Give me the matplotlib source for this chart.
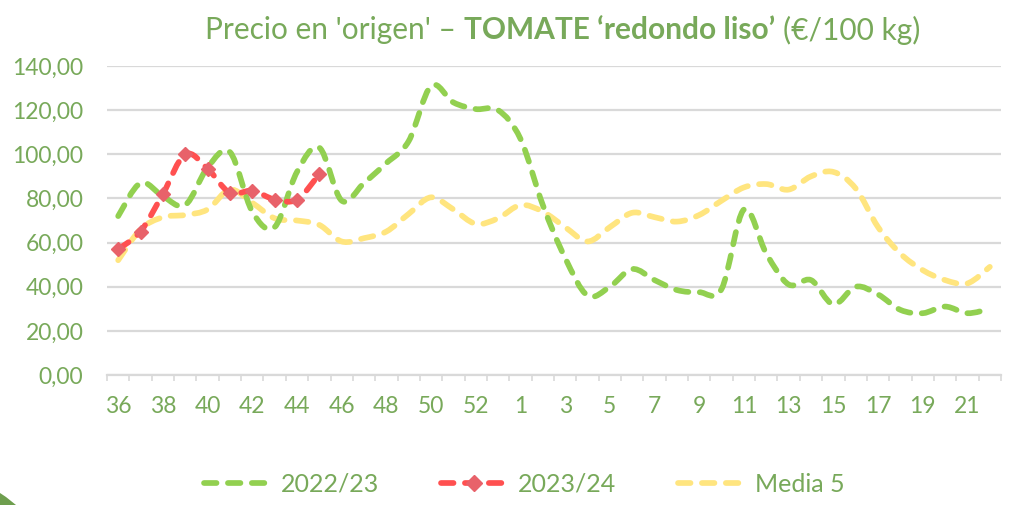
import numpy as np
import matplotlib
matplotlib.use("Agg")
import matplotlib.pyplot as plt
from matplotlib.path import Path
from matplotlib.patches import PathPatch, Polygon
from matplotlib.lines import Line2D
from matplotlib.ticker import FuncFormatter

# ---------------- data ----------------
weeks = [36, 37, 38, 39, 40, 41, 42, 43, 44, 45, 46, 47, 48, 49, 50, 51, 52, 53,
         1, 2, 3, 4, 5, 6, 7, 8, 9, 10, 11, 12, 13, 14, 15, 16, 17, 18, 19, 20, 21, 22]

s2022 = [72, 87, 81, 77, 94, 101, 74, 67, 92, 103, 79, 87, 96, 106, 131, 123.5, 120.5, 120,
         107, 77, 53, 36, 40, 48, 43, 38.5, 37.5, 39, 75, 55, 41, 43, 32, 40, 36.5, 29.5, 28, 31, 28, 30]

s2023 = [57, 65, 82, 100, 93.5, 82.5, 83.5, 79.5, 79.5, 91]

media5 = [52, 66, 71.5, 72.5, 75, 84, 78, 71, 70, 68, 60.5, 62, 65, 73, 80.5, 75, 68.5, 71,
          77, 74, 67, 60.5, 67, 73.5, 71.5, 69.5, 72.5, 79, 85, 86.5, 84, 90, 92, 84.5, 67, 55, 47.5, 43, 41.5, 49]

series_labels = ["2022/23", "2023/24", "Media 5"]
title_parts = ["Precio en 'origen' –", "TOMATE \u2018redondo liso\u2019", "(€/100 kg)"]

# ---------------- style ----------------
C_GREEN = "#92D050"
C_RED = "#FF5050"
C_RED_MK = "#E8626A"
C_YEL = "#FFE57F"
C_TXT = "#78A95A"
C_GRID = "#D9D9D9"
FONT = "Lato"
LW = 4.1
DASH = (0, (2.2, 2.0))

plt.rcParams["font.family"] = [FONT, "DejaVu Sans"]

fig = plt.figure(figsize=(10.12, 5.05), dpi=100)
ax = fig.add_axes([107 / 1012, 1 - 375 / 505, (1001 - 107) / 1012, (375 - 66) / 505])


def smooth_path(xs, ys):
    n = len(xs)
    verts = [(xs[0], ys[0])]
    codes = [Path.MOVETO]
    for i in range(n - 1):
        a = i - 1 if i > 0 else i
        d = i + 2 if i + 2 < n else i + 1
        c1 = (xs[i] + (xs[i + 1] - xs[a]) / 6.0, ys[i] + (ys[i + 1] - ys[a]) / 6.0)
        c2 = (xs[i + 1] - (xs[d] - xs[i]) / 6.0, ys[i + 1] - (ys[d] - ys[i]) / 6.0)
        verts += [c1, c2, (xs[i + 1], ys[i + 1])]
        codes += [Path.CURVE4] * 3
    return Path(verts, codes)


def add_curve(vals, color, z):
    xs = list(range(len(vals)))
    p = PathPatch(smooth_path(xs, vals), fill=False, edgecolor=color, lw=LW,
                  linestyle=DASH, capstyle="round", joinstyle="round", zorder=z)
    ax.add_patch(p)


add_curve(media5, C_YEL, 3)
add_curve(s2022, C_GREEN, 4)
add_curve(s2023, C_RED, 5)
ax.plot(range(len(s2023)), s2023, linestyle="none", marker="D", markersize=7.5,
        markerfacecolor=C_RED_MK, markeredgecolor=C_RED_MK, zorder=6)

# axes
ax.set_xlim(-0.5, len(weeks) - 0.5)
ax.set_ylim(0, 140)
ax.set_yticks(np.arange(0, 141, 20))
ax.yaxis.set_major_formatter(FuncFormatter(lambda v, p: f"{v:.2f}".replace(".", ",")))
ax.grid(axis="y", color=C_GRID, lw=1.6)
ax.set_axisbelow(True)
ax.tick_params(axis="y", length=0, pad=17, labelsize=16.5, labelcolor=C_TXT)

ax.set_xticks(np.arange(-0.5, len(weeks), 1))
ax.set_xticklabels([])
ax.tick_params(axis="x", which="major", direction="out", length=4, width=1.2, color=C_GRID)
lab_idx = list(range(0, len(weeks), 2))
ax.set_xticks(lab_idx, minor=True)
ax.set_xticklabels([str(weeks[i]) for i in lab_idx], minor=True)
ax.tick_params(axis="x", which="minor", length=0, pad=15, labelsize=16.5, labelcolor=C_TXT)

for s in ["left", "right", "top"]:
    ax.spines[s].set_visible(False)
ax.spines["bottom"].set_color(C_GRID)
ax.spines["bottom"].set_linewidth(1.6)

# legend
handles = [
    Line2D([], [], color=C_GREEN, lw=LW, linestyle=DASH, dash_capstyle="round"),
    Line2D([], [], color=C_RED, lw=LW, linestyle=DASH, dash_capstyle="round",
           marker="D", markersize=8, markerfacecolor=C_RED_MK, markeredgecolor=C_RED_MK),
    Line2D([], [], color=C_YEL, lw=LW, linestyle=DASH, dash_capstyle="round"),
]
leg = fig.legend(handles, series_labels, loc="center", bbox_to_anchor=(0.518, 1 - 484 / 505),
                 ncol=3, frameon=False, fontsize=18, handlelength=2.6, handletextpad=0.45,
                 columnspacing=2.5, labelcolor=C_TXT)

# title (mixed weight)
fs_title = 21.5
renderer = fig.canvas.get_renderer()
y_t = 1 - 30 / 505
texts = []
for part, wgt in zip(title_parts, ["normal", "bold", "normal"]):
    t = fig.text(0, y_t, part, fontsize=fs_title, fontweight=wgt, color=C_TXT,
                 ha="left", va="center")
    texts.append(t)
widths = [t.get_window_extent(renderer).width for t in texts]
gap = 0.27 * fs_title * 100 / 72
total = sum(widths) + gap * (len(widths) - 1)
x0 = 562.5 - total / 2
for t, w in zip(texts, widths):
    t.set_x(x0 / 1012)
    x0 += w + gap

# decorative corner
fig.patches.append(Polygon([(0, 0), (0, 12 / 505), (6 / 1012, 8 / 505), (16 / 1012, 0)],
                           closed=True, transform=fig.transFigure, facecolor="#6E9E4E",
                           edgecolor="none"))

fig.savefig("out.png", dpi=100)
